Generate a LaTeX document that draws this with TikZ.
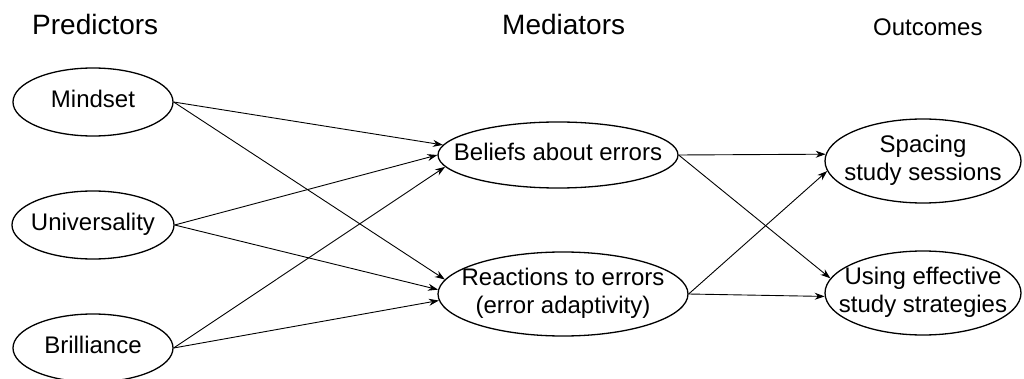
\documentclass[tikz,border=0pt]{standalone}
\usepackage{fontspec}
\setmainfont{Liberation Sans}
\usetikzlibrary{shapes.geometric,arrows.meta}
\newcommand\zb[1]{\makebox[0pt]{\begin{tabular}{@{}c@{}}#1\end{tabular}}}
\begin{document}
\begin{tikzpicture}[x=1pt,y=-1pt,
  oval/.style={ellipse,draw=black,line width=1.3pt,inner sep=0pt,
    font=\fontsize{24}{28}\selectfont},
  head/.style={anchor=base west,inner sep=0pt,font=\fontsize{28}{32}\selectfont},
  conn/.style={line width=0.9pt,-{Stealth[length=10pt,width=7pt]}}]
\useasboundingbox (0,0) rectangle (1024,379);
\node[head] (hp) at (32,35) {Predictors};
\node[head] (hm) at (502,35) {Mediators};
\node[head,font=\fontsize{24}{28}\selectfont] (ho) at (873,36) {Outcomes};

\node[oval,minimum width=160pt,minimum height=68pt] (mind) at (93,102) {\zb{Mindset}};
\node[oval,minimum width=162pt,minimum height=68pt] (univ) at (93,225) {\zb{Universality}};
\node[oval,minimum width=160pt,minimum height=68pt] (bril) at (93,348) {\zb{Brilliance}};
\node[oval,minimum width=240pt,minimum height=66pt] (bel) at (558,155) {\zb{Beliefs about errors}};
\node[oval,minimum width=250pt,minimum height=84pt] (rea) at (563,294) {\zb{Reactions to errors\\(error adaptivity)}};
\node[oval,minimum width=196pt,minimum height=84pt] (spa) at (923,161) {\zb{Spacing\\study sessions}};
\node[oval,minimum width=196pt,minimum height=84pt] (use) at (923,293) {\zb{Using effective\\study strategies}};

\draw[conn] (mind.east) -- (bel.175);
\draw[conn] (mind.east) -- (rea.173);
\draw[conn] (univ.east) -- (bel.180);
\draw[conn] (univ.east) -- (rea.178);
\draw[conn] (bril.east) -- (bel.186);
\draw[conn] (bril.east) -- (rea.183);
\draw[conn] (bel.east) -- (spa.176.5);
\draw[conn] (bel.east) -- (use.171);
\draw[conn] (rea.east) -- (spa.186);
\draw[conn] (rea.east) -- (use.182);
\end{tikzpicture}
\end{document}
